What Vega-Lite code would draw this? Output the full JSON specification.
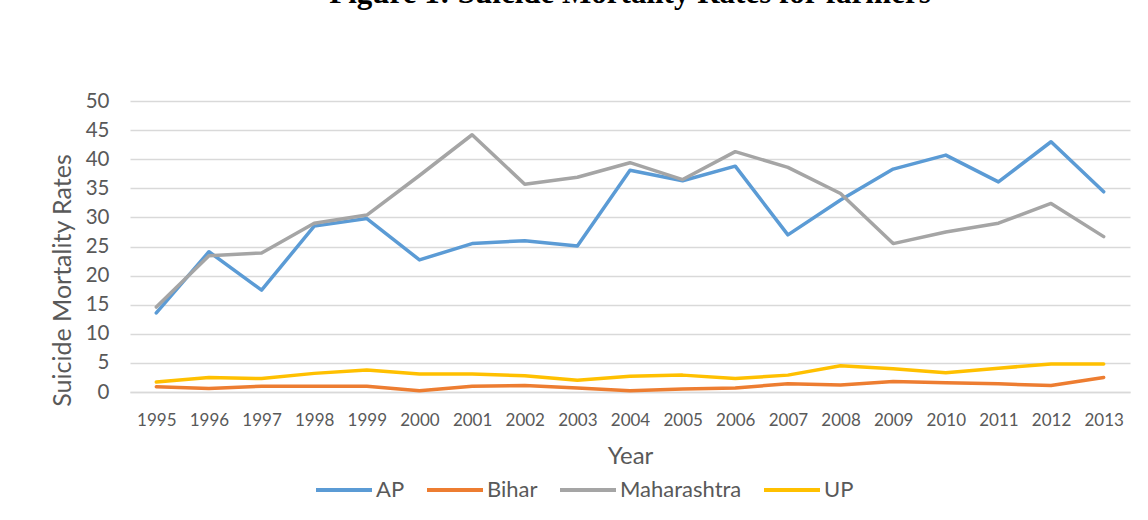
{
  "$schema": "https://vega.github.io/schema/vega-lite/v6.json",
  "autosize": {"type": "none"},
  "width": 1000,
  "height": 291,
  "padding": {"left": 130, "top": 101, "right": 18, "bottom": 128},
  "background": "white",
  "title": {
    "text": "Figure 1: Suicide Mortality Rates for farmers",
    "font": "Liberation Serif",
    "fontSize": 31,
    "fontWeight": "bold",
    "color": "black",
    "anchor": "middle",
    "baseline": "alphabetic",
    "offset": 57
  },
  "data": {
    "values": [
      {"Year": "1995", "State": "AP", "Rate": 13.6},
      {"Year": "1996", "State": "AP", "Rate": 24.1},
      {"Year": "1997", "State": "AP", "Rate": 17.5},
      {"Year": "1998", "State": "AP", "Rate": 28.5},
      {"Year": "1999", "State": "AP", "Rate": 29.8},
      {"Year": "2000", "State": "AP", "Rate": 22.7},
      {"Year": "2001", "State": "AP", "Rate": 25.5},
      {"Year": "2002", "State": "AP", "Rate": 26.0},
      {"Year": "2003", "State": "AP", "Rate": 25.1},
      {"Year": "2004", "State": "AP", "Rate": 38.1},
      {"Year": "2005", "State": "AP", "Rate": 36.3},
      {"Year": "2006", "State": "AP", "Rate": 38.8},
      {"Year": "2007", "State": "AP", "Rate": 27.0},
      {"Year": "2008", "State": "AP", "Rate": 33.0},
      {"Year": "2009", "State": "AP", "Rate": 38.3},
      {"Year": "2010", "State": "AP", "Rate": 40.7},
      {"Year": "2011", "State": "AP", "Rate": 36.1},
      {"Year": "2012", "State": "AP", "Rate": 43.0},
      {"Year": "2013", "State": "AP", "Rate": 34.4},
      {"Year": "1995", "State": "Bihar", "Rate": 0.9},
      {"Year": "1996", "State": "Bihar", "Rate": 0.6},
      {"Year": "1997", "State": "Bihar", "Rate": 1.0},
      {"Year": "1998", "State": "Bihar", "Rate": 1.0},
      {"Year": "1999", "State": "Bihar", "Rate": 1.0},
      {"Year": "2000", "State": "Bihar", "Rate": 0.2},
      {"Year": "2001", "State": "Bihar", "Rate": 1.0},
      {"Year": "2002", "State": "Bihar", "Rate": 1.1},
      {"Year": "2003", "State": "Bihar", "Rate": 0.7},
      {"Year": "2004", "State": "Bihar", "Rate": 0.2},
      {"Year": "2005", "State": "Bihar", "Rate": 0.5},
      {"Year": "2006", "State": "Bihar", "Rate": 0.7},
      {"Year": "2007", "State": "Bihar", "Rate": 1.4},
      {"Year": "2008", "State": "Bihar", "Rate": 1.2},
      {"Year": "2009", "State": "Bihar", "Rate": 1.8},
      {"Year": "2010", "State": "Bihar", "Rate": 1.6},
      {"Year": "2011", "State": "Bihar", "Rate": 1.4},
      {"Year": "2012", "State": "Bihar", "Rate": 1.1},
      {"Year": "2013", "State": "Bihar", "Rate": 2.5},
      {"Year": "1995", "State": "Maharashtra", "Rate": 14.6},
      {"Year": "1996", "State": "Maharashtra", "Rate": 23.4},
      {"Year": "1997", "State": "Maharashtra", "Rate": 23.9},
      {"Year": "1998", "State": "Maharashtra", "Rate": 29.0},
      {"Year": "1999", "State": "Maharashtra", "Rate": 30.4},
      {"Year": "2000", "State": "Maharashtra", "Rate": 37.2},
      {"Year": "2001", "State": "Maharashtra", "Rate": 44.2},
      {"Year": "2002", "State": "Maharashtra", "Rate": 35.7},
      {"Year": "2003", "State": "Maharashtra", "Rate": 36.9},
      {"Year": "2004", "State": "Maharashtra", "Rate": 39.4},
      {"Year": "2005", "State": "Maharashtra", "Rate": 36.5},
      {"Year": "2006", "State": "Maharashtra", "Rate": 41.3},
      {"Year": "2007", "State": "Maharashtra", "Rate": 38.6},
      {"Year": "2008", "State": "Maharashtra", "Rate": 34.1},
      {"Year": "2009", "State": "Maharashtra", "Rate": 25.5},
      {"Year": "2010", "State": "Maharashtra", "Rate": 27.5},
      {"Year": "2011", "State": "Maharashtra", "Rate": 29.0},
      {"Year": "2012", "State": "Maharashtra", "Rate": 32.4},
      {"Year": "2013", "State": "Maharashtra", "Rate": 26.7},
      {"Year": "1995", "State": "UP", "Rate": 1.7},
      {"Year": "1996", "State": "UP", "Rate": 2.5},
      {"Year": "1997", "State": "UP", "Rate": 2.3},
      {"Year": "1998", "State": "UP", "Rate": 3.2},
      {"Year": "1999", "State": "UP", "Rate": 3.8},
      {"Year": "2000", "State": "UP", "Rate": 3.1},
      {"Year": "2001", "State": "UP", "Rate": 3.1},
      {"Year": "2002", "State": "UP", "Rate": 2.8},
      {"Year": "2003", "State": "UP", "Rate": 2.0},
      {"Year": "2004", "State": "UP", "Rate": 2.7},
      {"Year": "2005", "State": "UP", "Rate": 2.9},
      {"Year": "2006", "State": "UP", "Rate": 2.3},
      {"Year": "2007", "State": "UP", "Rate": 2.9},
      {"Year": "2008", "State": "UP", "Rate": 4.5},
      {"Year": "2009", "State": "UP", "Rate": 4.0},
      {"Year": "2010", "State": "UP", "Rate": 3.3},
      {"Year": "2011", "State": "UP", "Rate": 4.1},
      {"Year": "2012", "State": "UP", "Rate": 4.8},
      {"Year": "2013", "State": "UP", "Rate": 4.8}
    ]
  },
  "mark": {"type": "line", "strokeWidth": 3.5, "strokeCap": "round", "strokeJoin": "round"},
  "encoding": {
    "x": {
      "field": "Year",
      "type": "ordinal",
      "scale": {"type": "point", "padding": 0.5},
      "axis": {
        "title": "Year",
        "labelAngle": 0,
        "labelFont": "Lato",
        "labelFontSize": 17,
        "labelColor": "#595959",
        "labelPadding": 20,
        "ticks": false,
        "domain": true,
        "domainColor": "#d9d9d9",
        "domainWidth": 1.5,
        "grid": false,
        "titleFont": "Lato",
        "titleFontSize": 24,
        "titleFontWeight": "normal",
        "titleColor": "#595959",
        "titlePadding": 16
      }
    },
    "y": {
      "field": "Rate",
      "type": "quantitative",
      "scale": {"domain": [0, 50], "nice": false},
      "axis": {
        "title": "Suicide Mortality Rates",
        "values": [0, 5, 10, 15, 20, 25, 30, 35, 40, 45, 50],
        "labelFont": "Lato",
        "labelFontSize": 20.5,
        "labelColor": "#595959",
        "labelPadding": 21,
        "ticks": false,
        "domain": false,
        "grid": true,
        "gridColor": "#d9d9d9",
        "gridWidth": 1.5,
        "titleFont": "Lato",
        "titleFontSize": 25,
        "titleFontWeight": "normal",
        "titleColor": "#595959",
        "titlePadding": 10,
        "titleY": 179
      }
    },
    "color": {
      "field": "State",
      "type": "nominal",
      "scale": {
        "domain": ["AP", "Bihar", "Maharashtra", "UP"],
        "range": ["#5B9BD5", "#ED7D31", "#A5A5A5", "#FFC000"]
      },
      "legend": {
        "title": null,
        "orient": "none",
        "direction": "horizontal",
        "legendX": 184,
        "legendY": 359,
        "padding": 0,
        "symbolType": "stroke",
        "symbolSize": 3136,
        "symbolStrokeWidth": 4,
        "labelFont": "Lato",
        "labelFontSize": 22,
        "labelColor": "#595959",
        "labelOffset": 2,
        "columnPadding": 14
      }
    }
  },
  "config": {
    "view": {"stroke": null}
  }
}
